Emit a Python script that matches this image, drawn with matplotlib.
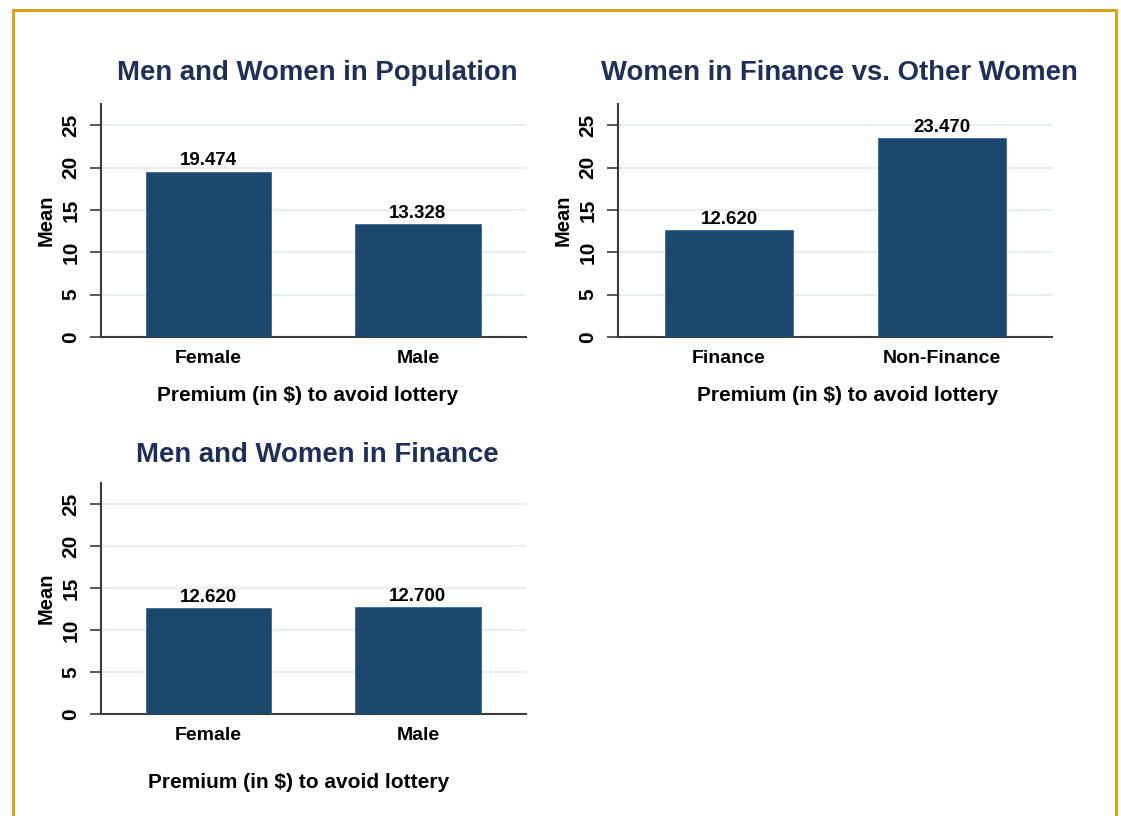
import matplotlib
matplotlib.use('Agg')
import matplotlib.pyplot as plt
from matplotlib.patches import Rectangle

# values
pop_cats = ['Female', 'Male']
pop_vals = [19.474, 13.328]

fin_cats = ['Finance', 'Non-Finance']
fin_vals = [12.620, 23.470]

finmf_cats = ['Female', 'Male']
finmf_vals = [12.620, 12.700]

titles = ['Men and Women in Population',
          'Women in Finance vs. Other Women',
          'Men and Women in Finance']
yticks = [0, 5, 10, 15, 20, 25]

plt.rcParams['font.family'] = ['Liberation Sans', 'DejaVu Sans']
plt.rcParams['font.weight'] = 'bold'

barcol = '#1c476f'
titlecol = '#1f2f57'
gridcol = '#e6eef0'
axcol = '#3c3c3c'

fig = plt.figure(figsize=(11.21, 8.16), dpi=100)


def panel(rect, cats, vals, title, xlim, xlabpos, tpad):
    ax = fig.add_axes(rect)
    x = list(range(len(cats)))
    ax.bar(x, vals, width=0.6, color=barcol, edgecolor='#3d6890',
           linewidth=0.6, zorder=3)
    for xi, v in zip(x, vals):
        ax.text(xi, v + 0.3, '%.3f' % v, ha='center', va='bottom',
                fontsize=13.5, fontweight='bold', color='black')
    ax.set_xlim(*xlim)
    ax.set_ylim(0, 27.5)
    ax.set_yticks(yticks)
    ax.set_yticklabels([str(t) for t in yticks], rotation=90, va='center',
                       fontsize=15, fontweight='bold')
    ax.set_xticks(x)
    ax.set_xticklabels(cats, fontsize=14, fontweight='bold')
    ax.tick_params(axis='x', length=0, pad=9)
    ax.tick_params(axis='y', length=8, width=1.2, color=axcol, pad=7)
    for t in yticks[1:]:
        ax.axhline(t, color=gridcol, lw=1.5, zorder=1)
    for s in ['top', 'right']:
        ax.spines[s].set_visible(False)
    for s in ['left', 'bottom']:
        ax.spines[s].set_color(axcol)
        ax.spines[s].set_linewidth(1.5)
    ax.set_ylabel('Mean', fontsize=14.5, fontweight='bold', labelpad=4)
    ax.set_xlabel('Premium (in $) to avoid lottery', fontsize=15,
                  fontweight='bold')
    ax.xaxis.set_label_coords(*xlabpos)
    ax.set_title(title, fontsize=19.8, fontweight='bold', color=titlecol,
                 pad=tpad, x=0.51)
    return ax


panel([0.0901, 0.587, 0.379, 0.2855], pop_cats, pop_vals, titles[0],
      (-0.513, 1.516), (0.486, -0.21), 17)
panel([0.5513, 0.587, 0.387, 0.2855], fin_cats, fin_vals, titles[1],
      (-0.521, 1.516), (0.528, -0.21), 17)
panel([0.0901, 0.125, 0.379, 0.283], finmf_cats, finmf_vals, titles[2],
      (-0.513, 1.516), (0.464, -0.255), 15.5)

# golden frame around the graph
fig.patches.append(Rectangle((13 / 1121, -0.05), (1116 - 13) / 1121,
                             1.05 - 10 / 816, transform=fig.transFigure,
                             fill=False, edgecolor='#d9a31c', lw=2.2))

fig.savefig('out.png', dpi=100)
